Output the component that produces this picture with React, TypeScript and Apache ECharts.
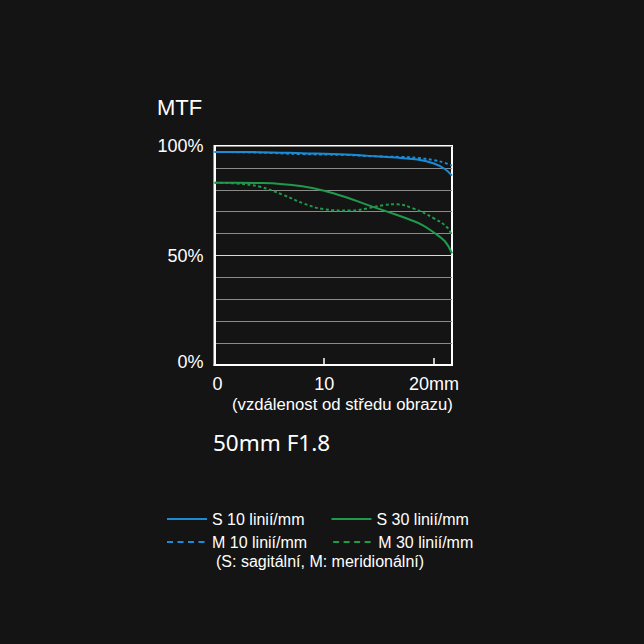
import React, { useEffect, useRef } from "react";
import * as echarts from "echarts";

// Distance from image centre (mm)
const x10 = [0, 4, 8, 12, 15, 17, 18.5, 20, 21, 21.65];
const s10 = [97.3, 97.2, 96.7, 96.1, 95.2, 94.5, 93.8, 92.0, 89.5, 86.5];
const m10 = [97.3, 97.0, 96.3, 95.9, 95.2, 95.0, 94.6, 93.5, 92.3, 91.0];

const xS30 = [0, 2, 4, 6, 8, 10, 12, 14, 16, 18, 19, 20, 21, 21.65];
const s30 = [83.2, 83.2, 83.1, 82.7, 81.6, 79.6, 76.6, 73.0, 69.6, 66.0, 63.8, 60.5, 56.5, 51.0];

const xM30 = [0, 2, 4.15, 6.3, 8.1, 9.9, 12.4, 13.9, 15.4, 16.6, 18.1, 20, 21.2, 21.65];
const m30 = [83.2, 82.9, 81.4, 77.6, 73.8, 71.2, 70.5, 71.5, 73.0, 73.4, 71.5, 67.0, 62.9, 59.0];

const yTickLabels = [0, 50, 100];
const xTickLabels = ["0", "10", "20mm"];
const seriesNames = ["S 10 linií/mm", "M 10 linií/mm", "S 30 linií/mm", "M 30 linií/mm"];

const BLUE = "#1a8bd6";
const GREEN = "#1f9a4c";
const FONT = "'Liberation Sans', Arial, sans-serif";

const pairs = (xs: number[], ys: number[]) => xs.map((x, i) => [x, ys[i]]);

export default function App() {
  const ref = useRef<HTMLDivElement>(null);
  useEffect(() => {
    const chart = echarts.init(ref.current!, null, { renderer: "svg" });
    const gridColors = Array.from({ length: 11 }, (_, i) => (i === 5 ? "#d8d8d8" : "#8a8a8a"));
    const dash = [3, 2.5];
    const legendBase = {
      left: 166,
      itemWidth: 40,
      itemHeight: 14,
      padding: 0,
      selectedMode: false,
      itemStyle: { opacity: 0 },
      textStyle: { color: "#ffffff", fontSize: 16, fontFamily: FONT },
    };
    chart.setOption({
      animation: false,
      backgroundColor: "#141414",
      textStyle: { fontFamily: FONT },
      grid: {
        left: 214.5,
        right: 192,
        top: 146,
        bottom: 279,
        show: true,
        borderColor: "#ffffff",
        borderWidth: 2,
        backgroundColor: "transparent",
      },
      xAxis: {
        type: "value",
        min: 0,
        max: 21.65,
        interval: 10,
        axisLine: { show: true, lineStyle: { color: "#ffffff", width: 2 } },
        axisTick: { show: true, inside: true, length: 7, lineStyle: { color: "#ffffff", width: 1.5 } },
        splitLine: { show: false },
        axisLabel: {
          color: "#ffffff",
          fontSize: 18,
          fontFamily: FONT,
          margin: 10,
          showMaxLabel: false,
          rich: { z: { fontSize: 18, fontFamily: FONT, color: "#ffffff", padding: [0, 0, 0, 6] } },
          formatter: (v: number) => {
            const i = [0, 10, 20].indexOf(Math.round(v * 100) / 100);
            if (i === 0) return "{z|" + xTickLabels[0] + "}";
            return i >= 0 ? xTickLabels[i] : "";
          },
        },
      },
      yAxis: {
        type: "value",
        min: 0,
        max: 100,
        interval: 10,
        axisLine: { show: true, lineStyle: { color: "#ffffff", width: 2 } },
        axisTick: { show: false },
        splitLine: { show: true, lineStyle: { color: gridColors, width: 1 } },
        axisLabel: {
          color: "#ffffff",
          fontSize: 18,
          fontFamily: FONT,
          margin: 11,
          rich: { z: { fontSize: 18, fontFamily: FONT, color: "#ffffff", padding: [0, 0, 6, 0] } },
          formatter: (v: number) => {
            if (!yTickLabels.includes(v)) return "";
            return v === 0 ? "{z|" + v + "%}" : v + "%";
          },
        },
      },
      legend: [
        {
          ...legendBase,
          top: 511,
          itemGap: 26,
          data: [seriesNames[0], seriesNames[2]],
        },
        {
          ...legendBase,
          top: 534,
          itemGap: 25,
          lineStyle: { type: [6, 4.5] },
          data: [seriesNames[1], seriesNames[3]],
        },
      ],
      series: [
        {
          name: seriesNames[0],
          type: "line",
          data: pairs(x10, s10),
          smooth: 0.4,
          symbol: "none",
          lineStyle: { color: BLUE, width: 2 },
          itemStyle: { color: BLUE },
          z: 3,
        },
        {
          name: seriesNames[1],
          type: "line",
          data: pairs(x10, m10),
          smooth: 0.4,
          symbol: "none",
          lineStyle: { color: BLUE, width: 2, type: dash },
          itemStyle: { color: BLUE },
          z: 2,
        },
        {
          name: seriesNames[2],
          type: "line",
          data: pairs(xS30, s30),
          smooth: 0.4,
          symbol: "none",
          lineStyle: { color: GREEN, width: 2 },
          itemStyle: { color: GREEN },
          z: 3,
        },
        {
          name: seriesNames[3],
          type: "line",
          data: pairs(xM30, m30),
          smooth: 0.4,
          symbol: "none",
          lineStyle: { color: GREEN, width: 2, type: dash },
          itemStyle: { color: GREEN },
          z: 2,
        },
      ],
      graphic: [
        {
          type: "text",
          left: 157,
          top: 96,
          style: { text: "MTF", fill: "#ffffff", fontSize: 22, fontFamily: FONT },
        },
        {
          type: "text",
          left: 232,
          top: 396,
          style: { text: "(vzdálenost od středu obrazu)", fill: "#ffffff", fontSize: 16.7, fontFamily: FONT },
        },
        {
          type: "text",
          left: 213,
          top: 431,
          style: { text: "50mm F1.8", fill: "#ffffff", fontSize: 22.5, fontFamily: "'Noto Sans', 'Open Sans', sans-serif" },
        },
        {
          type: "text",
          left: 216,
          top: 553,
          style: { text: "(S: sagitální, M: meridionální)", fill: "#ffffff", fontSize: 16, fontFamily: FONT },
        },
      ],
    });
    return () => chart.dispose();
  }, []);
  return <div ref={ref} style={{ width: 644, height: 644, position: "fixed", left: 0, top: 0 }} />;
}
